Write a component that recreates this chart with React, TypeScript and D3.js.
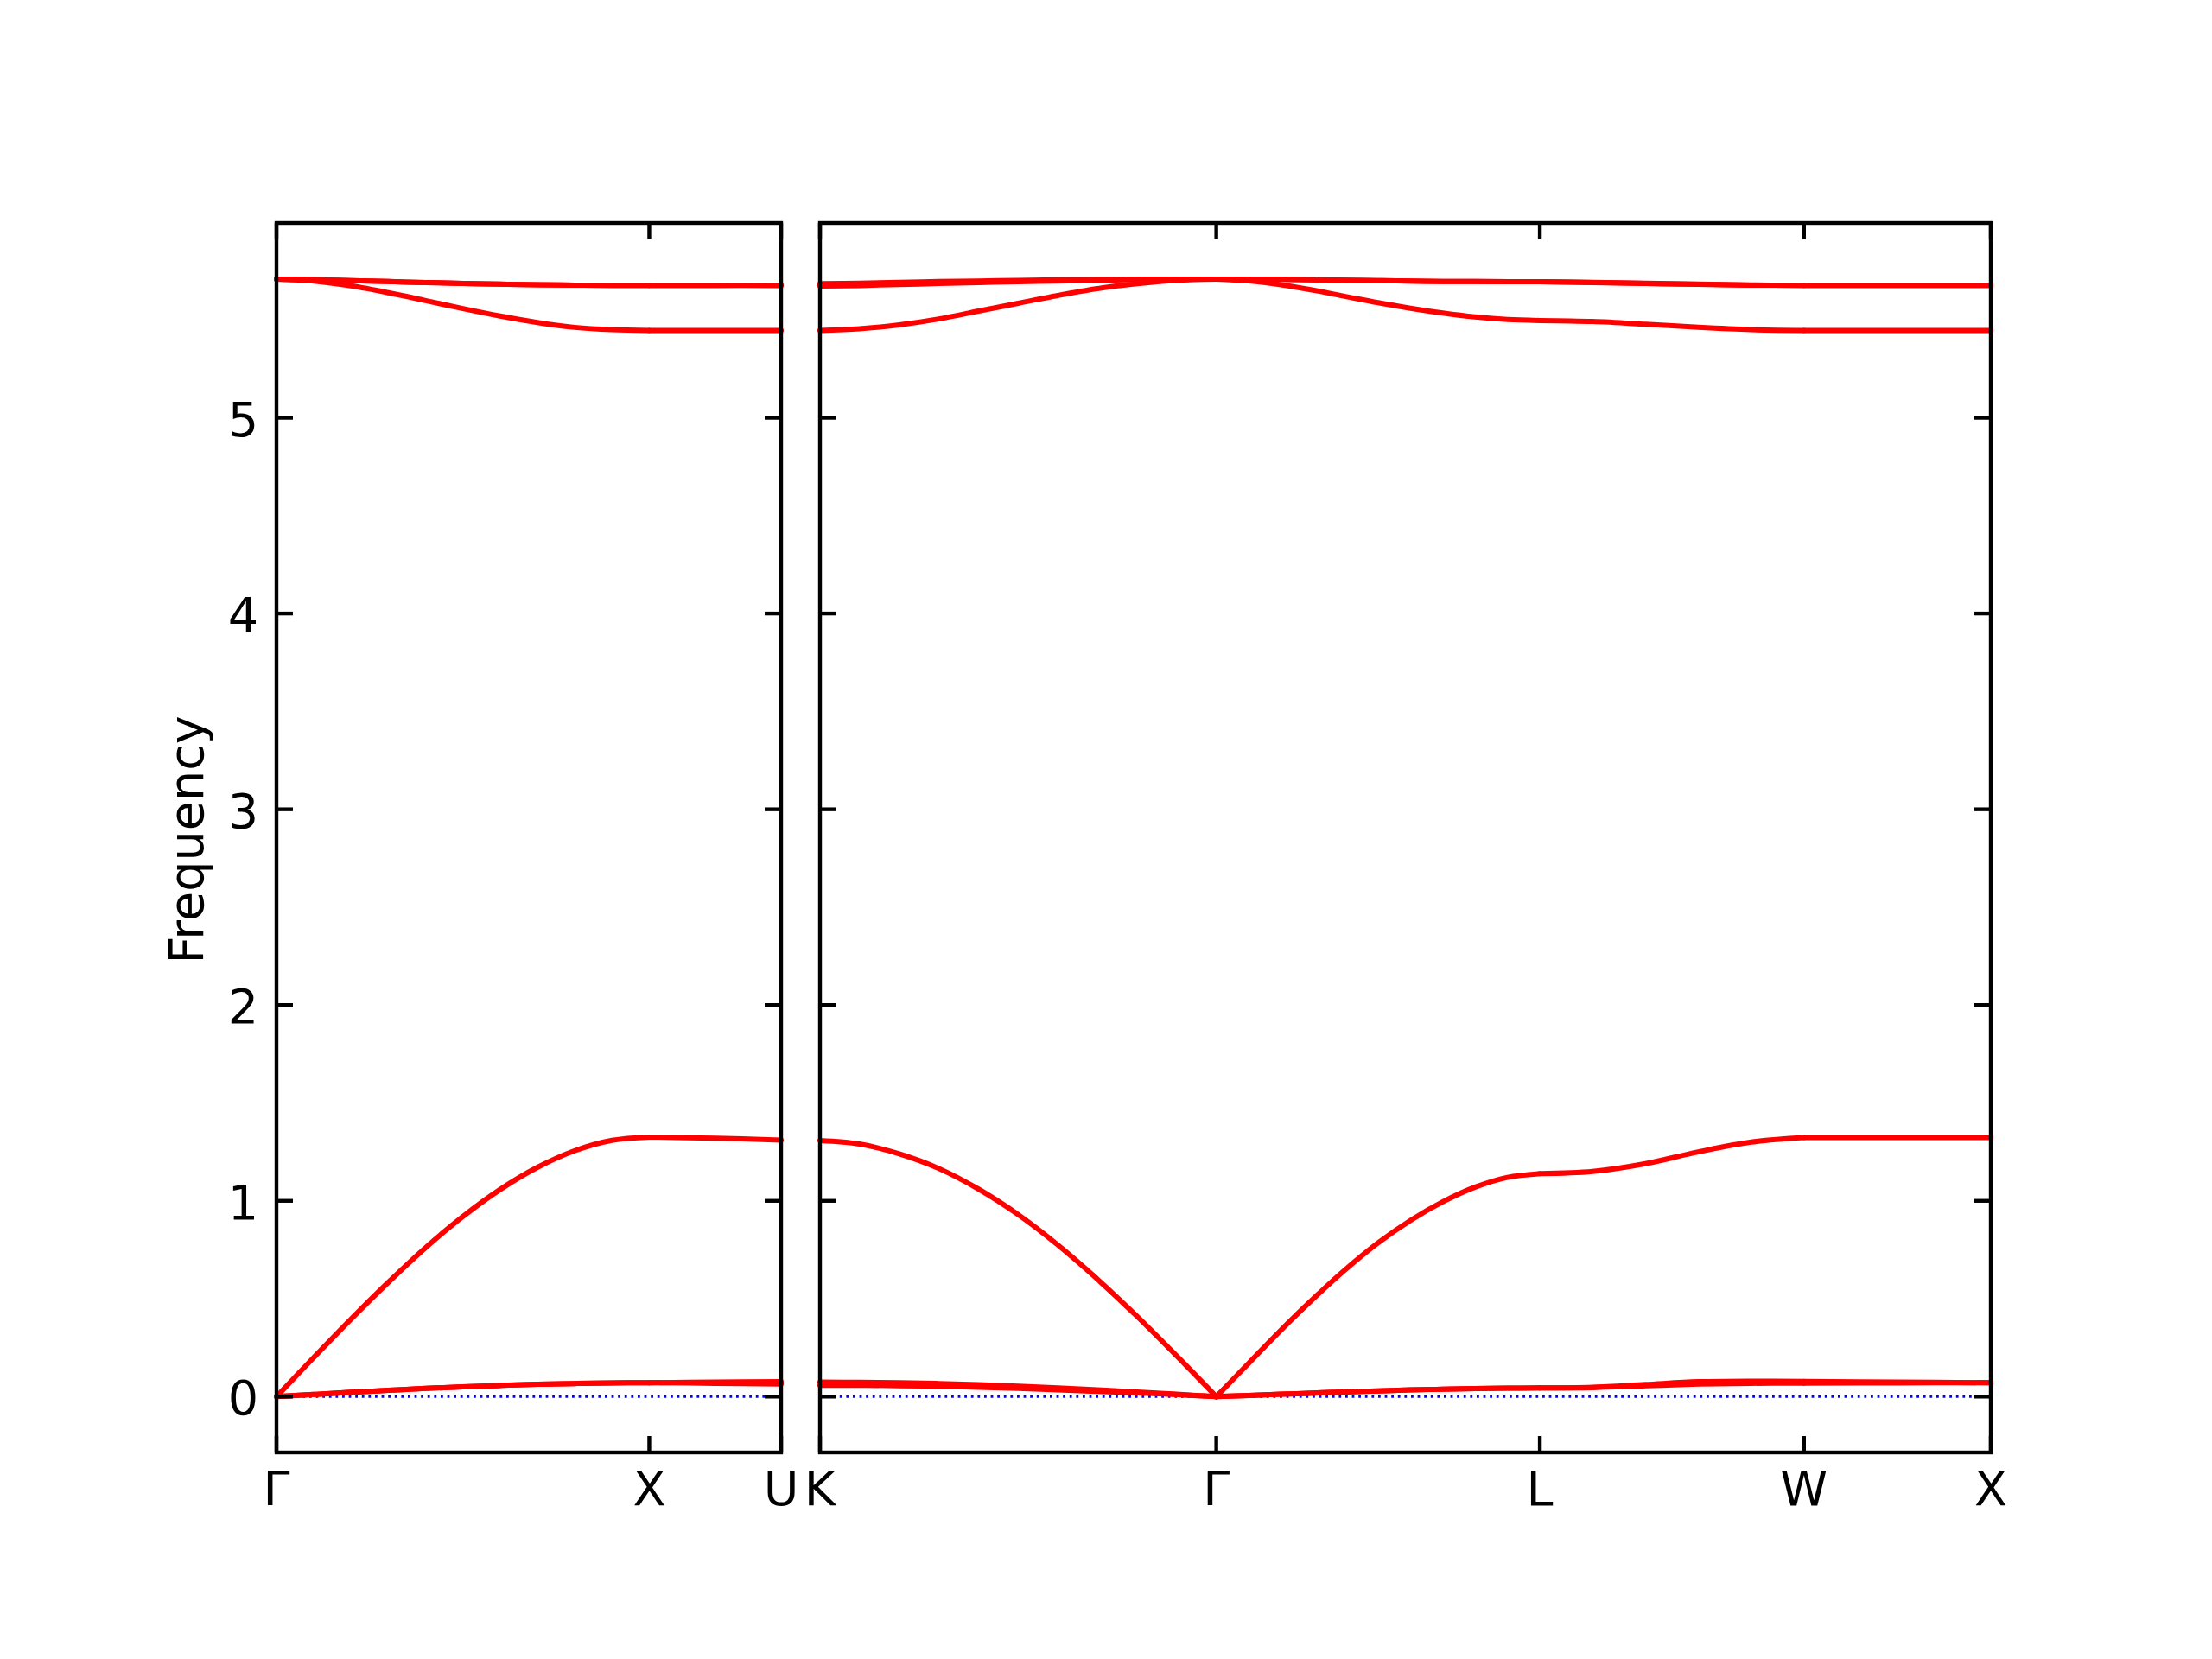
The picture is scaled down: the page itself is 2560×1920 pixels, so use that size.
import React from 'react';
import * as d3 from 'd3';

// high-symmetry path, split in two panels
const leftLabels = ['Γ', 'X', 'U'];
const leftSegLengths = [1.0, 0.3536];
const rightLabels = ['K', 'Γ', 'L', 'W', 'X'];
const rightSegLengths = [1.0607, 0.866, 0.7071, 0.5];
const yTickValues = [0, 1, 2, 3, 4, 5];

// rows: bands (TA1, TA2, LA, TO1, TO2, LO); columns: evenly spaced samples along the segment
const bandsGammaX = [
  [0, 0.011, 0.022, 0.032, 0.042, 0.05, 0.057, 0.063, 0.067, 0.07, 0.071],
  [0, 0.011, 0.022, 0.032, 0.042, 0.05, 0.057, 0.063, 0.067, 0.07, 0.071],
  [0, 0.2, 0.396, 0.584, 0.761, 0.92, 1.058, 1.171, 1.256, 1.309, 1.326],
  [5.709, 5.706, 5.701, 5.696, 5.691, 5.687, 5.683, 5.68, 5.678, 5.677, 5.677],
  [5.709, 5.706, 5.701, 5.696, 5.691, 5.687, 5.683, 5.68, 5.678, 5.677, 5.677],
  [5.709, 5.699, 5.674, 5.639, 5.599, 5.558, 5.52, 5.487, 5.462, 5.45, 5.446],
];
const bandsXU = [
  [0.071, 0.074, 0.076],
  [0.071, 0.068, 0.064],
  [1.326, 1.32, 1.31],
  [5.677, 5.677, 5.678],
  [5.677, 5.677, 5.676],
  [5.446, 5.446, 5.446],
];
const bandsKGamma = [
  [0.074, 0.073, 0.071, 0.067, 0.061, 0.053, 0.044, 0.034, 0.024, 0.012, 0],
  [0.058, 0.058, 0.056, 0.053, 0.048, 0.042, 0.035, 0.027, 0.019, 0.01, 0],
  [1.308, 1.29, 1.24, 1.165, 1.06, 0.93, 0.775, 0.6, 0.41, 0.208, 0],
  [5.685, 5.688, 5.692, 5.696, 5.699, 5.702, 5.705, 5.707, 5.708, 5.709, 5.709],
  [5.673, 5.676, 5.681, 5.686, 5.691, 5.695, 5.699, 5.703, 5.706, 5.708, 5.709],
  [5.446, 5.455, 5.475, 5.505, 5.545, 5.585, 5.625, 5.66, 5.685, 5.703, 5.709],
];
const bandsGammaL = [
  [0, 0.006, 0.012, 0.018, 0.024, 0.029, 0.034, 0.038, 0.041, 0.043, 0.044],
  [0, 0.006, 0.012, 0.018, 0.024, 0.029, 0.034, 0.038, 0.041, 0.043, 0.044],
  [0, 0.17, 0.34, 0.5, 0.65, 0.785, 0.9, 0.995, 1.07, 1.12, 1.139],
  [5.709, 5.708, 5.707, 5.705, 5.703, 5.701, 5.699, 5.697, 5.696, 5.695, 5.695],
  [5.709, 5.708, 5.707, 5.705, 5.703, 5.701, 5.699, 5.697, 5.696, 5.695, 5.695],
  [5.709, 5.7, 5.68, 5.652, 5.62, 5.588, 5.56, 5.535, 5.515, 5.502, 5.497],
];
const bandsLW = [
  [0.044, 0.048, 0.062, 0.076, 0.079, 0.077],
  [0.044, 0.046, 0.055, 0.064, 0.068, 0.069],
  [1.139, 1.15, 1.19, 1.25, 1.3, 1.323],
  [5.695, 5.692, 5.688, 5.683, 5.679, 5.677],
  [5.695, 5.691, 5.686, 5.682, 5.678, 5.677],
  [5.497, 5.492, 5.478, 5.462, 5.45, 5.446],
];
const bandsWX = [
  [0.077, 0.074, 0.071],
  [0.069, 0.07, 0.071],
  [1.323, 1.323, 1.323],
  [5.677, 5.677, 5.677],
  [5.677, 5.677, 5.677],
  [5.446, 5.446, 5.446],
];

const leftSegments = [bandsGammaX, bandsXU];
const rightSegments = [bandsKGamma, bandsGammaL, bandsLW, bandsWX];

const W = 2560;
const H = 1920;
const TOP = 258;
const BOTTOM = 1681;
const FONT = 'DejaVu Sans, sans-serif';
const FS = 55.6;
const TICK = 19;
const SPINE = 4.4;

const y = d3.scaleLinear().domain([-0.2855, 5.9955]).range([BOTTOM, TOP]);

interface PanelProps {
  x0: number;
  x1: number;
  labels: string[];
  segLengths: number[];
  segments: number[][][];
  yLabels?: boolean;
}

const Panel = ({ x0, x1, labels, segLengths, segments, yLabels }: PanelProps) => {
  const starts = segLengths.reduce<number[]>((acc, l) => [...acc, acc[acc.length - 1] + l], [0]);
  const total = starts[starts.length - 1];
  const x = d3.scaleLinear().domain([0, total]).range([x0, x1]);
  const line = d3
    .line<[number, number]>()
    .x((d) => x(d[0]))
    .y((d) => y(d[1]))
    .curve(d3.curveCatmullRom.alpha(0.5));

  const paths: string[] = [];
  segments.forEach((bands, si) => {
    bands.forEach((vals) => {
      const n = vals.length - 1;
      const pts = vals.map((v, i) => [starts[si] + (segLengths[si] * i) / n, v] as [number, number]);
      paths.push(line(pts) ?? '');
    });
  });

  return (
    <g>
      {/* zero line */}
      <line
        x1={x0}
        x2={x1}
        y1={y(0)}
        y2={y(0)}
        stroke="#0000ff"
        strokeWidth={2.8}
        strokeDasharray="2.8 4.8"
      />
      {paths.map((d, i) => (
        <path key={i} d={d} fill="none" stroke="#ff0000" strokeWidth={6} strokeLinecap="round" />
      ))}
      {/* y ticks, inward on both sides */}
      {yTickValues.map((t) => (
        <g key={t}>
          <line x1={x0} x2={x0 + TICK} y1={y(t)} y2={y(t)} stroke="#000" strokeWidth={SPINE} />
          <line x1={x1} x2={x1 - TICK} y1={y(t)} y2={y(t)} stroke="#000" strokeWidth={SPINE} />
          {yLabels && (
            <text
              x={x0 - 21}
              y={y(t) + 21}
              textAnchor="end"
              fontFamily={FONT}
              fontSize={FS}
              fill="#000"
            >
              {t}
            </text>
          )}
        </g>
      ))}
      {/* x ticks at high-symmetry points */}
      {starts.map((s, i) => (
        <g key={i}>
          <line x1={x(s)} x2={x(s)} y1={BOTTOM} y2={BOTTOM - TICK} stroke="#000" strokeWidth={SPINE} />
          <line x1={x(s)} x2={x(s)} y1={TOP} y2={TOP + TICK} stroke="#000" strokeWidth={SPINE} />
          <text
            x={x(s)}
            y={BOTTOM + 61}
            textAnchor="middle"
            fontFamily={FONT}
            fontSize={FS}
            fill="#000"
          >
            {labels[i]}
          </text>
        </g>
      ))}
      <rect
        x={x0}
        y={TOP}
        width={x1 - x0}
        height={BOTTOM - TOP}
        fill="none"
        stroke="#000"
        strokeWidth={SPINE}
      />
    </g>
  );
};

export default function App() {
  return (
    <svg
      width={W}
      height={H}
      viewBox={`0 0 ${W} ${H}`}
      style={{ position: 'absolute', left: 0, top: 0 }}
    >
      <rect width={W} height={H} fill="#fff" />
      <Panel
        x0={320}
        x1={904}
        labels={leftLabels}
        segLengths={leftSegLengths}
        segments={leftSegments}
        yLabels
      />
      <Panel
        x0={949}
        x1={2304}
        labels={rightLabels}
        segLengths={rightSegLengths}
        segments={rightSegments}
      />
      <text
        transform={`translate(235, 972) rotate(-90)`}
        textAnchor="middle"
        fontFamily={FONT}
        fontSize={FS}
        fill="#000"
      >
        Frequency
      </text>
    </svg>
  );
}
